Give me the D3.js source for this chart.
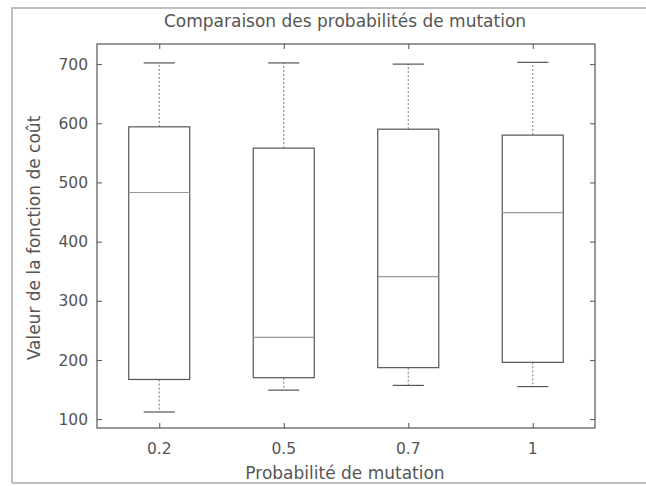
<!DOCTYPE html>
<html>
<head>
<meta charset="utf-8">
<script src="https://cdn.jsdelivr.net/npm/d3@7"></script>
<style>
  body { margin: 0; background: #fff; }
  text { font-family: "DejaVu Sans", sans-serif; fill: #555; }
</style>
</head>
<body>
<svg id="chart" width="646" height="486"></svg>
<script>
// box statistics per mutation probability
const categories = ["0.2", "0.5", "0.7", "1"];
const whiskerLow = [112, 149, 157, 155];
const q1 = [167, 170, 187, 196];
const median = [483, 238, 341, 449];
const q3 = [594, 558, 590, 580];
const whiskerHigh = [702, 702, 700, 703];
const yTicks = [100, 200, 300, 400, 500, 600, 700];

const titleText = "Comparaison des probabilités de mutation";
const xLabel = "Probabilité de mutation";
const yLabel = "Valeur de la fonction de coût";

const mLeft = 97, mRight = 595, mTop = 44, mBottom = 428;
const svg = d3.select("#chart");

// scanned page frame
svg.append("path")
  .attr("d", `M12,483 L12,8 L646,8 M12,483 L646,483`)
  .attr("fill", "none").attr("stroke", "#aaa").attr("stroke-width", 1.5);

const x = d3.scaleLinear().domain([0.5, 4.5]).range([mLeft, mRight]);
const y = d3.scaleLinear().domain([85, 734]).range([mBottom, mTop]);
const idx = categories.map((c, i) => i + 1);

// plot box
svg.append("rect")
  .attr("x", mLeft).attr("y", mTop)
  .attr("width", mRight - mLeft).attr("height", mBottom - mTop)
  .attr("fill", "none").attr("stroke", "#555").attr("stroke-width", 1.2);

// inward ticks on all four sides
const tk = 5;
svg.append("g").attr("transform", `translate(${mLeft},0)`)
  .call(d3.axisRight(y).tickValues(yTicks).tickSize(tk).tickFormat(""))
  .call(g => g.select(".domain").remove());
svg.append("g").attr("transform", `translate(${mRight},0)`)
  .call(d3.axisLeft(y).tickValues(yTicks).tickSize(tk).tickFormat(""))
  .call(g => g.select(".domain").remove());
svg.append("g").attr("transform", `translate(0,${mBottom})`)
  .call(d3.axisTop(x).tickValues(idx).tickSize(tk).tickFormat(""))
  .call(g => g.select(".domain").remove());
svg.append("g").attr("transform", `translate(0,${mTop})`)
  .call(d3.axisBottom(x).tickValues(idx).tickSize(tk).tickFormat(""))
  .call(g => g.select(".domain").remove());
svg.selectAll(".tick line").attr("stroke", "#555");

// tick labels
svg.append("g").selectAll("text").data(yTicks).join("text")
  .attr("x", mLeft - 9).attr("y", d => y(d)).attr("dy", "0.36em")
  .attr("text-anchor", "end").style("font-size", "15.5px")
  .text(d => d);
svg.append("g").selectAll("text").data(categories).join("text")
  .attr("x", (d, i) => x(i + 1)).attr("y", 454)
  .attr("text-anchor", "middle").style("font-size", "15.5px")
  .text(d => d);

// boxes
const half = 0.245, cap = 0.125;
const boxes = svg.append("g").selectAll("g").data(categories).join("g");
boxes.append("line")
  .attr("x1", (d, i) => x(i + 1)).attr("x2", (d, i) => x(i + 1))
  .attr("y1", (d, i) => y(q3[i])).attr("y2", (d, i) => y(whiskerHigh[i]))
  .attr("stroke", "#777").attr("stroke-dasharray", "2,2");
boxes.append("line")
  .attr("x1", (d, i) => x(i + 1)).attr("x2", (d, i) => x(i + 1))
  .attr("y1", (d, i) => y(q1[i])).attr("y2", (d, i) => y(whiskerLow[i]))
  .attr("stroke", "#777").attr("stroke-dasharray", "2,2");
boxes.append("line")
  .attr("x1", (d, i) => x(i + 1 - cap)).attr("x2", (d, i) => x(i + 1 + cap))
  .attr("y1", (d, i) => y(whiskerHigh[i])).attr("y2", (d, i) => y(whiskerHigh[i]))
  .attr("stroke", "#555").attr("stroke-width", 1.2);
boxes.append("line")
  .attr("x1", (d, i) => x(i + 1 - cap)).attr("x2", (d, i) => x(i + 1 + cap))
  .attr("y1", (d, i) => y(whiskerLow[i])).attr("y2", (d, i) => y(whiskerLow[i]))
  .attr("stroke", "#555").attr("stroke-width", 1.2);
boxes.append("rect")
  .attr("x", (d, i) => x(i + 1 - half))
  .attr("y", (d, i) => y(q3[i]))
  .attr("width", x(1 + half) - x(1 - half))
  .attr("height", (d, i) => y(q1[i]) - y(q3[i]))
  .attr("fill", "none").attr("stroke", "#555").attr("stroke-width", 1.2);
boxes.append("line")
  .attr("x1", (d, i) => x(i + 1 - half)).attr("x2", (d, i) => x(i + 1 + half))
  .attr("y1", (d, i) => y(median[i])).attr("y2", (d, i) => y(median[i]))
  .attr("stroke", "#999").attr("stroke-width", 1.2);

// titles
svg.append("text").attr("x", 345).attr("y", 27)
  .attr("text-anchor", "middle").style("font-size", "17px").text(titleText);
svg.append("text").attr("x", 345).attr("y", 479)
  .attr("text-anchor", "middle").style("font-size", "17px").text(xLabel);
svg.append("text")
  .attr("transform", "translate(40,238) rotate(-90)")
  .attr("text-anchor", "middle").style("font-size", "17px").text(yLabel);
</script>
</body>
</html>
